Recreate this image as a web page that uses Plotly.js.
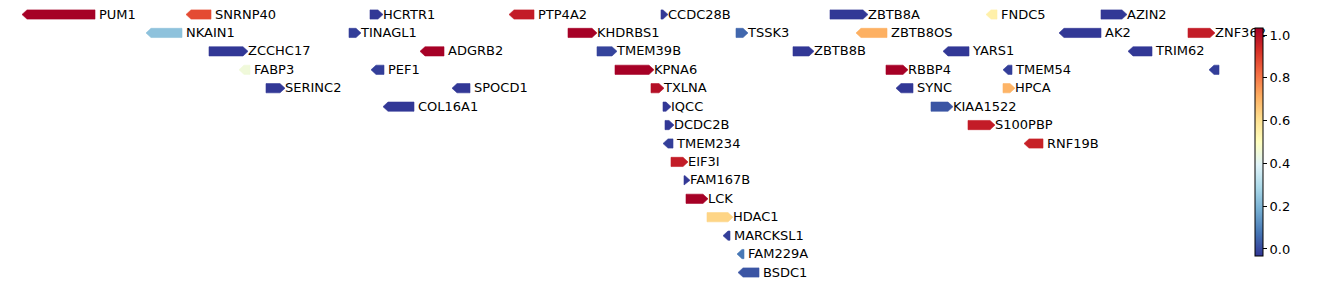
<!DOCTYPE html>
<html>
<head>
<meta charset="utf-8">
<script src="https://cdn.plot.ly/plotly-3.0.1.min.js"></script>
<style>html,body{margin:0;padding:0;background:#fff;}#chart{width:1338px;height:285px;}</style>
</head>
<body>
<div id="chart"></div>
<script>
// Gene annotation track (positions in kb)
const geneNames = ["PUM1","SNRNP40","HCRTR1","PTP4A2","CCDC28B","ZBTB8A","FNDC5","AZIN2",
  "NKAIN1","TINAGL1","KHDRBS1","TSSK3","ZBTB8OS","AK2","ZNF362",
  "ZCCHC17","ADGRB2","TMEM39B","ZBTB8B","YARS1","TRIM62",
  "FABP3","PEF1","KPNA6","RBBP4","TMEM54","",
  "SERINC2","SPOCD1","TXLNA","SYNC","HPCA",
  "COL16A1","IQCC","KIAA1522",
  "DCDC2B","S100PBP",
  "TMEM234","RNF19B",
  "EIF3I","FAM167B","LCK","HDAC1","MARCKSL1","FAM229A","BSDC1"];
const geneStarts = [30944,31272,31640,31918,32222,32560,32872,33102,
  31192,31598,32036,32372,32612,33018,33276,
  31318,31740,32094,32486,32786,33156,
  31378,31642,32130,32672,32906,33318,
  31432,31804,32202,32692,32906,
  31666,32226,32762,
  32230,32836,
  32226,32948,
  32242,32268,32272,32314,32346,32374,32376];
const geneEnds = [31090,31322,31666,31968,32236,32636,32894,33154,
  31264,31622,32094,32396,32674,33102,33330,
  31396,31788,32134,32528,32838,33204,
  31400,31668,32208,32716,32924,33338,
  31470,31840,32228,32726,32930,
  31728,32242,32806,
  32248,32890,
  32246,32986,
  32276,32280,32316,32366,32360,32388,32418];
const geneStrands = [-1,-1,1,-1,1,1,-1,1,
  -1,1,1,1,-1,-1,1,
  1,-1,1,1,-1,-1,
  -1,-1,1,1,-1,-1,
  1,-1,1,-1,1,
  -1,1,1,
  1,1,
  -1,-1,
  1,1,1,1,-1,-1,-1];
const geneRows = [0,0,0,0,0,0,0,0,
  1,1,1,1,1,1,1,
  2,2,2,2,2,2,
  3,3,3,3,3,3,
  4,4,4,4,4,
  5,5,5,
  6,6,
  7,7,
  8,9,10,11,12,13,14];
const geneValues = [1.03,0.88,-0.03,0.97,-0.03,-0.03,0.55,-0.03,
  0.23,-0.02,1.03,0.05,0.71,-0.03,0.97,
  -0.03,1.03,-0.01,-0.03,-0.03,-0.03,
  0.45,-0.02,1.03,1.03,-0.02,-0.02,
  -0.03,-0.03,1.0,-0.03,0.70,
  -0.03,-0.03,0.02,
  -0.03,0.97,
  -0.02,0.96,
  0.97,-0.03,1.03,0.63,-0.02,0.08,0.02];
const cbTicks = [0.0,0.2,0.4,0.6,0.8,1.0];

const CMIN = -0.033, CMAX = 1.033;
const rdylbuR = ["#313695","#4575b4","#74add1","#abd9e9","#e0f3f8","#ffffbf","#fee090","#fdae61","#f46d43","#d73027","#a50026"];
const colorscale = rdylbuR.map((c,i)=>[i/(rdylbuR.length-1), c]);

function hex2rgb(h){return [parseInt(h.slice(1,3),16),parseInt(h.slice(3,5),16),parseInt(h.slice(5,7),16)];}
function colorFor(v){
  let t = (v-CMIN)/(CMAX-CMIN); t = Math.max(0,Math.min(1,t));
  const n = rdylbuR.length-1; const p = t*n; const i = Math.min(n-1, Math.floor(p)); const f = p-i;
  const a = hex2rgb(rdylbuR[i]), b = hex2rgb(rdylbuR[i+1]);
  const c = a.map((x,k)=>Math.round(x+(b[k]-x)*f));
  return `rgb(${c[0]},${c[1]},${c[2]})`;
}

const XMIN = 30900, XMAX = 33360;   // plot area 0..1230 px
const KB_PER_PX = (XMAX-XMIN)/1230;
const HEAD = 5*KB_PER_PX;
const HALF = 0.25;
const ROW_PX = 258/14;

const traces = [];
for (let i=0;i<geneNames.length;i++){
  const s = geneStarts[i], e = geneEnds[i], y = geneRows[i];
  const hd = Math.min(HEAD, e-s);
  let xs, ys;
  if (geneStrands[i] > 0){
    xs = [s, e-hd, e, e-hd, s, s];
    ys = [y-HALF, y-HALF, y, y+HALF, y+HALF, y-HALF];
  } else {
    xs = [s, s+hd, e, e, s+hd, s];
    ys = [y, y-HALF, y-HALF, y+HALF, y+HALF, y];
  }
  traces.push({type:'scatter', mode:'lines', x:xs, y:ys, fill:'toself',
    fillcolor: colorFor(geneValues[i]), line:{width:0.6, color: colorFor(geneValues[i])},
    hoverinfo:'skip', showlegend:false});
}
// labels
traces.push({type:'scatter', mode:'text',
  x: geneEnds.map((e,i)=> e + (geneStrands[i]<0 ? 4 : 0)*KB_PER_PX),
  y: geneRows.map(r=> r + 0.8/ROW_PX), text: geneNames, textposition:'middle right',
  textfont:{family:'DejaVu Sans', size:13, color:'#000'},
  cliponaxis:false, hoverinfo:'skip', showlegend:false});
// colorbar carrier
traces.push({type:'scatter', mode:'markers',
  x: geneStarts, y: geneRows,
  marker:{size:1, opacity:0, color: geneValues, colorscale: colorscale, cmin:CMIN, cmax:CMAX, showscale:true,
    colorbar:{x:1255/1230, xanchor:'left', xpad:0, thickness:8, lenmode:'pixels', len:228,
      y:29/285, yanchor:'bottom', ypad:0, outlinewidth:1, outlinecolor:'#000', borderwidth:0,
      tickvals: cbTicks, ticktext: cbTicks.map(v=>v.toFixed(1)), ticks:'outside', ticklen:4, tickwidth:1, tickcolor:'#000',
      tickfont:{family:'DejaVu Sans', size:13, color:'#000'}}},
  hoverinfo:'skip', showlegend:false});

const layout = {
  width:1338, height:285,
  margin:{l:0, r:108, t:0, b:0, pad:0},
  paper_bgcolor:'#fff', plot_bgcolor:'#fff',
  showlegend:false,
  xaxis:{range:[XMIN, XMAX], visible:false, fixedrange:true},
  yaxis:{range:[14 + 12.5/ROW_PX, -14.5/ROW_PX], visible:false, fixedrange:true}
};
Plotly.newPlot('chart', traces, layout, {staticPlot:true, displayModeBar:false});
</script>
</body>
</html>
